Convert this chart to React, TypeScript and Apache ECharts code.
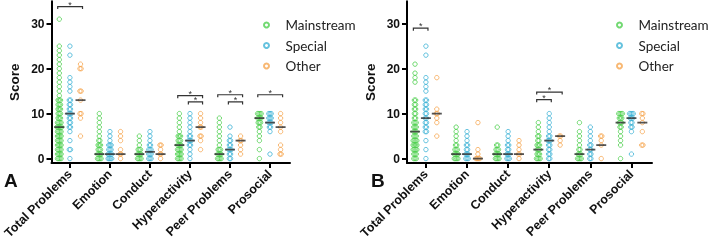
import React, { useEffect, useRef } from 'react';
import * as echarts from 'echarts';

const categories = ['Total Problems', 'Emotion', 'Conduct', 'Hyperactivity', 'Peer Problems', 'Prosocial'];
const groups = ['Mainstream', 'Special', 'Other'];
const colors = ['#4fcf4f', '#3fb3d6', '#f6a650'];
const yTicks = [0, 10, 20, 30];
const xTicks = [0, 1, 2, 3, 4, 5];

// [score, number of children] per category, panel A
const aMainstream = [
  [[0,4],[1,4],[2,4],[3,4],[4,4],[5,4],[6,4],[7,5],[8,4],[9,3],[10,3],[11,3],[12,3],[13,3],[14,1],[15,1],[16,1],[17,1],[18,1],[19,1],[20,1],[21,1],[22,1],[23,1],[24,1],[25,1],[31,1]],
  [[0,4],[1,4],[2,3],[3,3],[4,2],[5,1],[6,1],[7,1],[8,1],[9,1],[10,1]],
  [[0,4],[1,4],[2,3],[3,1],[4,1],[5,1]],
  [[0,4],[1,4],[2,4],[3,4],[4,3],[5,3],[6,1],[7,1],[8,1],[9,1],[10,1]],
  [[0,4],[1,4],[2,3],[3,1],[4,1],[5,1],[6,1],[7,1],[8,1],[9,1]],
  [[0,1],[2,1],[4,1],[5,1],[6,1],[7,2],[8,3],[9,4],[10,4]],
];
const aSpecial = [
  [[0,1],[2,2],[4,1],[6,1],[7,2],[8,2],[9,2],[10,3],[11,2],[12,2],[13,2],[15,1],[16,1],[17,1],[18,1],[23,1],[25,1]],
  [[0,4],[1,4],[2,3],[3,3],[4,1],[5,1],[6,1]],
  [[0,3],[1,3],[2,3],[3,2],[4,1],[5,1],[6,1]],
  [[0,1],[1,1],[2,1],[3,2],[4,3],[5,2],[6,1],[7,1],[8,1],[9,1],[10,1]],
  [[0,2],[1,2],[2,3],[3,2],[4,2],[5,1],[7,1]],
  [[1,1],[6,1],[7,2],[8,3],[9,3],[10,3]],
];
const aOther = [
  [[5,1],[9,1],[10,2],[13,1],[15,2],[20,2],[21,1]],
  [[0,1],[1,2],[2,1],[4,1],[5,1],[6,1]],
  [[0,1],[1,2],[2,1],[3,2]],
  [[2,1],[4,1],[5,2],[7,2],[8,1],[9,1],[10,1]],
  [[1,1],[2,1],[3,1],[4,2],[5,1]],
  [[1,2],[2,1],[3,1],[6,1],[7,1],[8,1],[9,1],[10,1]],
];

// panel B
const bMainstream = [
  [[0,3],[1,3],[2,4],[3,4],[4,4],[5,3],[6,3],[7,3],[8,3],[9,2],[10,2],[11,2],[12,2],[13,2],[17,1],[18,1],[19,1],[21,1]],
  [[0,4],[1,4],[2,3],[3,2],[4,1],[5,1],[6,1],[7,1]],
  [[0,4],[1,4],[2,3],[3,2],[7,1]],
  [[0,4],[1,3],[2,3],[3,3],[4,2],[5,2],[6,1],[7,1],[8,1]],
  [[0,4],[1,3],[2,2],[3,1],[4,1],[5,1],[6,1],[8,1]],
  [[0,1],[3,1],[4,1],[5,1],[6,1],[7,2],[8,3],[9,3],[10,4]],
];
const bSpecial = [
  [[0,1],[2,1],[4,1],[6,2],[7,2],[8,2],[9,2],[10,2],[11,2],[12,2],[13,2],[15,1],[16,1],[17,1],[18,1],[23,1],[25,1]],
  [[0,3],[1,3],[2,2],[3,2],[4,1],[5,1],[6,1]],
  [[0,3],[1,3],[2,2],[3,2],[4,1],[5,1],[6,1]],
  [[0,2],[1,2],[2,2],[3,2],[4,3],[5,2],[6,1],[7,1],[8,1],[9,1],[10,1]],
  [[0,2],[1,2],[2,2],[3,2],[4,1],[5,1],[6,1],[7,1]],
  [[1,1],[6,1],[7,2],[8,2],[9,3],[10,4]],
];
const bOther = [
  [[5,1],[8,1],[9,1],[10,2],[11,1],[18,1]],
  [[0,4],[1,1],[2,1],[8,1]],
  [[0,1],[1,2],[2,1],[3,1],[4,1]],
  [[3,1],[4,1],[5,2]],
  [[0,1],[3,1],[4,1],[5,2]],
  [[3,2],[6,1],[8,1],[9,1],[10,2]],
];

// medians [Mainstream, Special, Other] per category
const aMedians = [[7,10,13],[1,1,1],[1,1.5,1],[3,4,7],[1,2,4],[9,8,7]];
const bMedians = [[6,9,10],[1,1,0],[1,1,1],[2,4,5],[1,2,3],[8,9,8]];

// significance brackets: [category, fromGroup, toGroup, height]
const aBrackets = [[0,0,2,33.8],[3,0,2,14.0],[3,1,2,12.6],[4,0,2,14.2],[4,1,2,12.6],[5,0,2,14.2]];
const bBrackets = [[0,0,1,29.0],[3,0,2,14.8],[3,0,1,13.1]];

const OFF = [-0.265, 0, 0.265];
const DUP = 0.03;
const FONT = 'Liberation Sans';

function toPoints(cats: number[][][], g: number) {
  const out: number[][] = [];
  cats.forEach((pairs, ci) => {
    pairs.forEach(([v, n]) => {
      for (let k = 0; k < n; k++) out.push([ci + OFF[g] + (k - (n - 1) / 2) * DUP, v]);
    });
  });
  return out;
}

function buildPanel(p: number, sets: number[][][][], medians: number[][], brackets: number[][]) {
  const series: any[] = [];
  sets.forEach((cats, g) => {
    series.push({
      type: 'scatter', name: groups[g], xAxisIndex: p, yAxisIndex: p,
      symbol: 'circle', symbolSize: 4.4,
      itemStyle: { color: 'rgba(255,255,255,0)', borderColor: colors[g], borderWidth: 1 },
      data: toPoints(cats, g), z: 2,
    });
  });
  const med: any[] = [];
  medians.forEach((row, ci) => row.forEach((m, g) => med.push([ci + OFF[g], m])));
  series.push({
    type: 'scatter', xAxisIndex: p, yAxisIndex: p, symbol: 'rect', symbolSize: [10, 1.8],
    itemStyle: { color: '#2a2a2a' }, data: med, z: 3,
  });
  series.push({
    type: 'custom', xAxisIndex: p, yAxisIndex: p, coordinateSystem: 'cartesian2d', clip: false, z: 4,
    data: brackets.map(([c, g1, g2, h]) => [c + OFF[g1] - 0.04, c + OFF[g2] + 0.05, h]),
    encode: { x: [0, 1], y: 2 },
    renderItem: (params: any, api: any) => {
      const a = api.coord([api.value(0), api.value(2)]);
      const b = api.coord([api.value(1), api.value(2)]);
      return {
        type: 'group',
        children: [
          { type: 'polyline', shape: { points: [[a[0], a[1] + 2.5], [a[0], a[1]], [b[0], b[1]], [b[0], b[1] + 2.5]] },
            style: { stroke: '#333', lineWidth: 1.2, fill: null } },
          { type: 'text', x: (a[0] + b[0]) / 2, y: a[1] - 2,
            style: { text: '*', fill: '#333', font: '9px ' + FONT, align: 'center', verticalAlign: 'middle' } },
        ],
      };
    },
  });
  return series;
}

export default function App() {
  const ref = useRef<HTMLDivElement>(null);
  useEffect(() => {
    if (!ref.current) return;
    const chart = echarts.init(ref.current, null, { renderer: 'svg' });
    const grids = [
      { left: 43, top: 1.2, width: 247, height: 163.8 },
      { left: 407, top: 1.2, width: 245, height: 163.8 },
    ];
    const xAxis = [0, 1].map((p) => ({
      type: 'value', gridIndex: p, min: -0.46, max: 5.5,
      splitLine: { show: false },
      axisLine: { show: true, onZero: false, lineStyle: { color: '#000', width: 2 } },
      axisTick: { show: true, customValues: xTicks, length: 5, lineStyle: { color: '#000', width: 2 } },
      axisLabel: {
        customValues: xTicks, formatter: (v: number) => categories[Math.round(v)] ?? '',
        rotate: 45, fontWeight: 'bold', fontSize: 12.5, fontFamily: FONT, color: '#111', margin: 9,
      },
    }));
    const yAxis = [0, 1].map((p) => ({
      type: 'value', gridIndex: p, min: -1, max: 35,
      splitLine: { show: false },
      axisLine: { show: true, onZero: false, lineStyle: { color: '#000', width: 2 } },
      axisTick: { show: true, customValues: yTicks, length: 5, lineStyle: { color: '#000', width: 2 } },
      axisLabel: { customValues: yTicks, fontWeight: 'bold', fontSize: 12, fontFamily: FONT, color: '#111', margin: 7 },
      name: 'Score', nameLocation: 'middle', nameGap: 30,
      nameTextStyle: { fontWeight: 'bold', fontSize: 13.5, fontFamily: FONT, color: '#111' },
    }));
    const legend = [258, 611].map((left) => ({
      orient: 'vertical', left, top: 12, itemWidth: 28, itemHeight: 5, itemGap: 4.5,
      data: groups, selectedMode: false,
      textStyle: { fontSize: 13.5, fontFamily: 'Lato', color: '#222', lineHeight: 16 },
    }));
    chart.setOption({
      animation: false,
      grid: grids,
      xAxis, yAxis, legend,
      graphic: [
        { type: 'text', left: 4, top: 171, style: { text: 'A', font: 'bold 19px ' + FONT, fill: '#111' } },
        { type: 'text', left: 371, top: 171, style: { text: 'B', font: 'bold 19px ' + FONT, fill: '#111' } },
      ],
      series: [
        ...buildPanel(0, [aMainstream, aSpecial, aOther], aMedians, aBrackets),
        ...buildPanel(1, [bMainstream, bSpecial, bOther], bMedians, bBrackets),
      ],
    });
    return () => chart.dispose();
  }, []);
  return <div ref={ref} style={{ position: 'fixed', left: 0, top: 0, width: 708, height: 242 }} />;
}
